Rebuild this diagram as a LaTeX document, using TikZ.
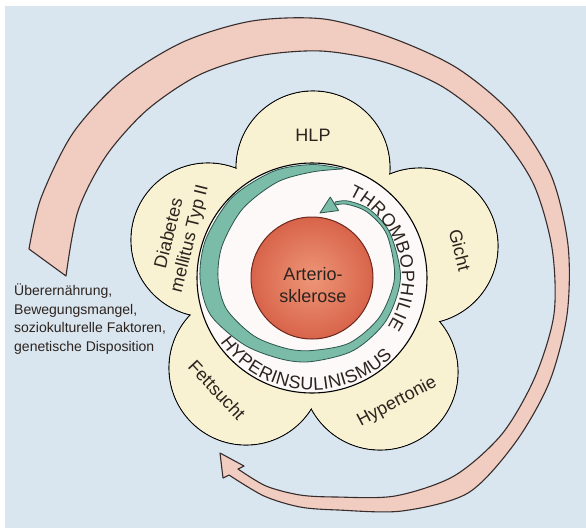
\documentclass[tikz,border=0pt]{standalone}
\usepackage{fontspec}
\setmainfont{Liberation Sans}
\usetikzlibrary{decorations.text}
\definecolor{bgblue}{RGB}{217,230,240}
\definecolor{pinkc}{RGB}{241,204,193}
\definecolor{outl}{RGB}{55,45,45}
\definecolor{petalc}{RGB}{248,241,210}
\definecolor{ringc}{RGB}{252,249,248}
\definecolor{tealc}{RGB}{122,188,168}
\definecolor{tealdark}{RGB}{45,85,78}
\definecolor{redin}{RGB}{238,150,120}
\definecolor{redout}{RGB}{216,100,74}
\definecolor{reddark}{RGB}{110,40,30}
\definecolor{txt}{RGB}{45,35,30}
\newcommand\ringfont{\fontsize{18}{18}\selectfont}
\tikzset{
  lbl/.style={font=\fontsize{18}{21}\selectfont, text=txt, inner sep=1pt},
  petaldraw/.style={fill=petalc, draw=black, line width=1.1pt},
}
\begin{document}
\begin{tikzpicture}[x=1pt,y=-1pt]
\useasboundingbox (0,0) rectangle (586,528);
\fill[white] (0,0) rectangle (586,528);
\fill[bgblue] (5,6) rectangle (586,528);
% big pink arrow
\filldraw[fill=pinkc, draw=outl, line width=1.1pt, line join=round]
  plot[smooth] coordinates {(29,249) (41,198) (73,133) (122,80) (183,42) (252,21) (324,19) (392,38) (457,68) (512,114) (551,175) (568,245) (567,315) (549,383) (515,443) (468,493) (402,511) (338,510) (300,507) (264,496) (229,475)}
  -- (223,478) -- (220,453) -- (244,466)
  -- plot[smooth] coordinates {(238,469) (266,486) (300,495) (336,497) (395,496) (454,476) (502,434) (535,377) (554,314) (552,248) (533,183) (495,129) (443,87) (384,62) (321,51) (258,56) (199,75) (147,110) (106,156) (78,211) (66,276)}
  -- cycle;
% petals
\foreach \x/\y/\r in {313/168/77, 420/246/78, 380/372/78, 246/368/77, 208/240/77}
  \filldraw[petaldraw] (\x,\y) circle[radius=\r];
\foreach \x/\y/\r in {313/168/77, 420/246/78, 380/372/78, 246/368/77, 208/240/77}
  \fill[petalc] (\x,\y) circle[radius=\r-0.6];
% ring
\filldraw[fill=ringc, draw=black, line width=1.1pt] (312,278) circle[radius=115];
\begin{scope}[shift={(312,278)}, y=1pt]
  \filldraw[fill=tealc, draw=tealdark, line width=0.8pt, line join=round]
    plot[smooth] coordinates {(74:113.5) (90:113.5) (110:113.5) (135:113.5) (160:113) (180:112) (200:108) (225:95) (250:86.5) (270:83.5) (300:83.5) (330:85.5) (360:88.5) (390:90) (410:89.5) (425:85) (433:79.5)}
    -- plot[smooth] coordinates {(433:76) (425:81.5) (410:86) (390:86.5) (360:82.5) (330:78) (300:75) (270:72.5) (250:75) (225:82) (200:91) (180:94) (160:95.5) (135:98) (110:102) (90:106) (74:113.5)}
    -- cycle;
  \filldraw[fill=tealc, draw=tealdark, line width=0.8pt, line join=round]
    (77.3:83) -- (83:65.5) -- (68.5:72.5) -- cycle;
  \path[decorate, decoration={text along path, text={|\ringfont|THROMBOPHILIE}, text align={fit to path}, text color=txt}]
    (66:90) arc[start angle=66, end angle=-33, radius=90];
  \path[decorate, decoration={text along path, text={|\ringfont|HYPERINSULINISMUS}, text align={fit to path}, text color=txt}]
    (215:112) arc[start angle=215, end angle=316, radius=112];
\end{scope}
% core
\filldraw[draw=reddark, line width=1pt, inner color=redin, outer color=redout] (312,278) circle[radius=61];
\node[lbl, align=center, font=\fontsize{18}{22}\selectfont] (core) at (313,285) {Arterio-\\sklerose};
% petal labels
\node[lbl] (hlp) at (313,135) {HLP};
\node[lbl, rotate=-76] (gicht) at (460,250) {Gicht};
\node[lbl, rotate=28] (hyper) at (397,402) {Hypertonie};
\node[lbl, rotate=-47] (fett) at (217,390) {Fettsucht};
\node[lbl, rotate=76, align=center] (diab) at (180,236) {Diabetes\\mellitus Typ II};
% causes
\node[anchor=north west, align=left, inner sep=0pt, text=txt, font=\fontsize{14}{18.5}\selectfont] (causes) at (14,284) {Überernährung,\\Bewegungsmangel,\\soziokulturelle Faktoren,\\genetische Disposition};
\end{tikzpicture}
\end{document}
